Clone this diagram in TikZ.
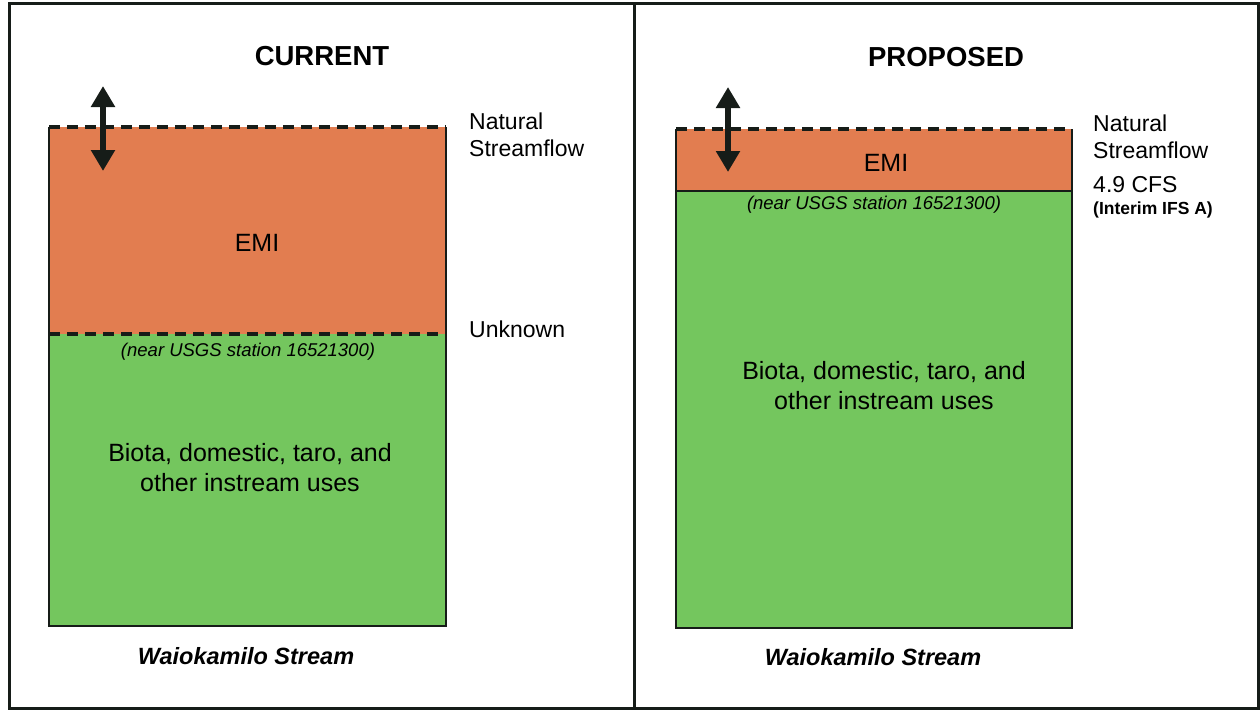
\documentclass[tikz,border=0pt]{standalone}
\usepackage{fontspec}
\setmainfont{Liberation Sans}
\usetikzlibrary{arrows.meta}
\definecolor{emiorange}{RGB}{226,125,80}
\definecolor{usegreen}{RGB}{116,198,94}
\definecolor{inkdark}{RGB}{22,28,24}
\tikzset{
  frameline/.style={draw=inkdark, line width=3pt},
  boxedge/.style={draw=inkdark, line width=2.5pt},
  dashedge/.style={draw=inkdark, line width=3.5pt, dash pattern=on 11pt off 7pt},
  region/.style={rectangle, anchor=north west, inner sep=0pt, outer sep=0pt},
  flowarrow/.style={draw=inkdark, line width=5.5pt, -{Triangle[length=21pt,width=23pt]}},
  title/.style={font=\bfseries\fontsize{27.5}{32}\selectfont, inner sep=0pt},
  sidelabel/.style={font=\fontsize{23}{27.5}\selectfont, anchor=west, align=left, inner sep=0pt},
  bodytext/.style={font=\fontsize{25}{30}\selectfont, align=center, inner sep=0pt},
  stationnote/.style={font=\itshape\fontsize{18.5}{22}\selectfont, inner sep=0pt},
  streamname/.style={font=\bfseries\itshape\fontsize{23.5}{28}\selectfont, inner sep=0pt},
  smallnote/.style={font=\bfseries\fontsize{17.5}{21}\selectfont, anchor=west, inner sep=0pt}
}
\begin{document}
\begin{tikzpicture}[x=1pt,y=-1pt]
\useasboundingbox (0,0) rectangle (1260,709);

% outer frame and divider
\coordinate (fTL) at (9,4);
\coordinate (fBR) at (1258,708);
\coordinate (dTop) at (634,4);
\coordinate (dBot) at (634,708);
\draw[frameline] (fTL) rectangle (fBR);
\draw[frameline] (dTop) -- (dBot);

% ---------------- current ----------------
\node[region, fill=emiorange, minimum width=397pt, minimum height=207pt] (emiL) at (49,127) {};
\node[region, fill=usegreen, minimum width=397pt, minimum height=292pt] (useL) at (49,334) {};
\draw[boxedge] (emiL.north west) -- (useL.south west) -- (useL.south east) -- (emiL.north east);
\draw[dashedge] (emiL.north west) -- (emiL.north east);
\draw[dashedge] (useL.north west) -- (useL.north east);

\coordinate (upL) at (103,86);
\coordinate (midL) at (103,127);
\coordinate (downL) at (103,171);
\draw[flowarrow] (midL) -- (upL);
\draw[flowarrow] (midL) -- (downL);

\node[title] (curT) at (322,56) {CURRENT};
\node[sidelabel] (natL) at (469,135) {Natural\\Streamflow};
\node[sidelabel] (unkL) at (469,329) {Unknown};
\node[bodytext] (emiTL) at (257,243) {EMI};
\node[stationnote] (stL) at (248,352) {(near USGS station 16521300)};
\node[bodytext] (bioL) at (250,468) {Biota, domestic, taro, and\\other instream uses};
\node[streamname] (strL) at (246,656) {Waiokamilo Stream};

% ---------------- proposed ----------------
\node[region, fill=emiorange, minimum width=396pt, minimum height=62pt] (emiR) at (676,129) {};
\node[region, fill=usegreen, minimum width=396pt, minimum height=437pt] (useR) at (676,191) {};
\draw[boxedge] (emiR.north west) -- (useR.south west) -- (useR.south east) -- (emiR.north east);
\draw[boxedge] (useR.north west) -- (useR.north east);
\draw[dashedge] (emiR.north west) -- (emiR.north east);

\coordinate (upR) at (728,87);
\coordinate (midR) at (728,129);
\coordinate (downR) at (728,172);
\draw[flowarrow] (midR) -- (upR);
\draw[flowarrow] (midR) -- (downR);

\node[title] (propT) at (946,57) {PROPOSED};
\node[sidelabel] (natR) at (1093,137) {Natural\\Streamflow};
\node[sidelabel] (cfsR) at (1093,185) {4.9 CFS};
\node[smallnote] (ifsR) at (1093,210) {(Interim IFS A)};
\node[bodytext] (emiTR) at (886,163) {EMI};
\node[stationnote] (stR) at (874,205) {(near USGS station 16521300)};
\node[bodytext] (bioR) at (884,386) {Biota, domestic, taro, and\\other instream uses};
\node[streamname] (strR) at (873,657) {Waiokamilo Stream};
\end{tikzpicture}
\end{document}
